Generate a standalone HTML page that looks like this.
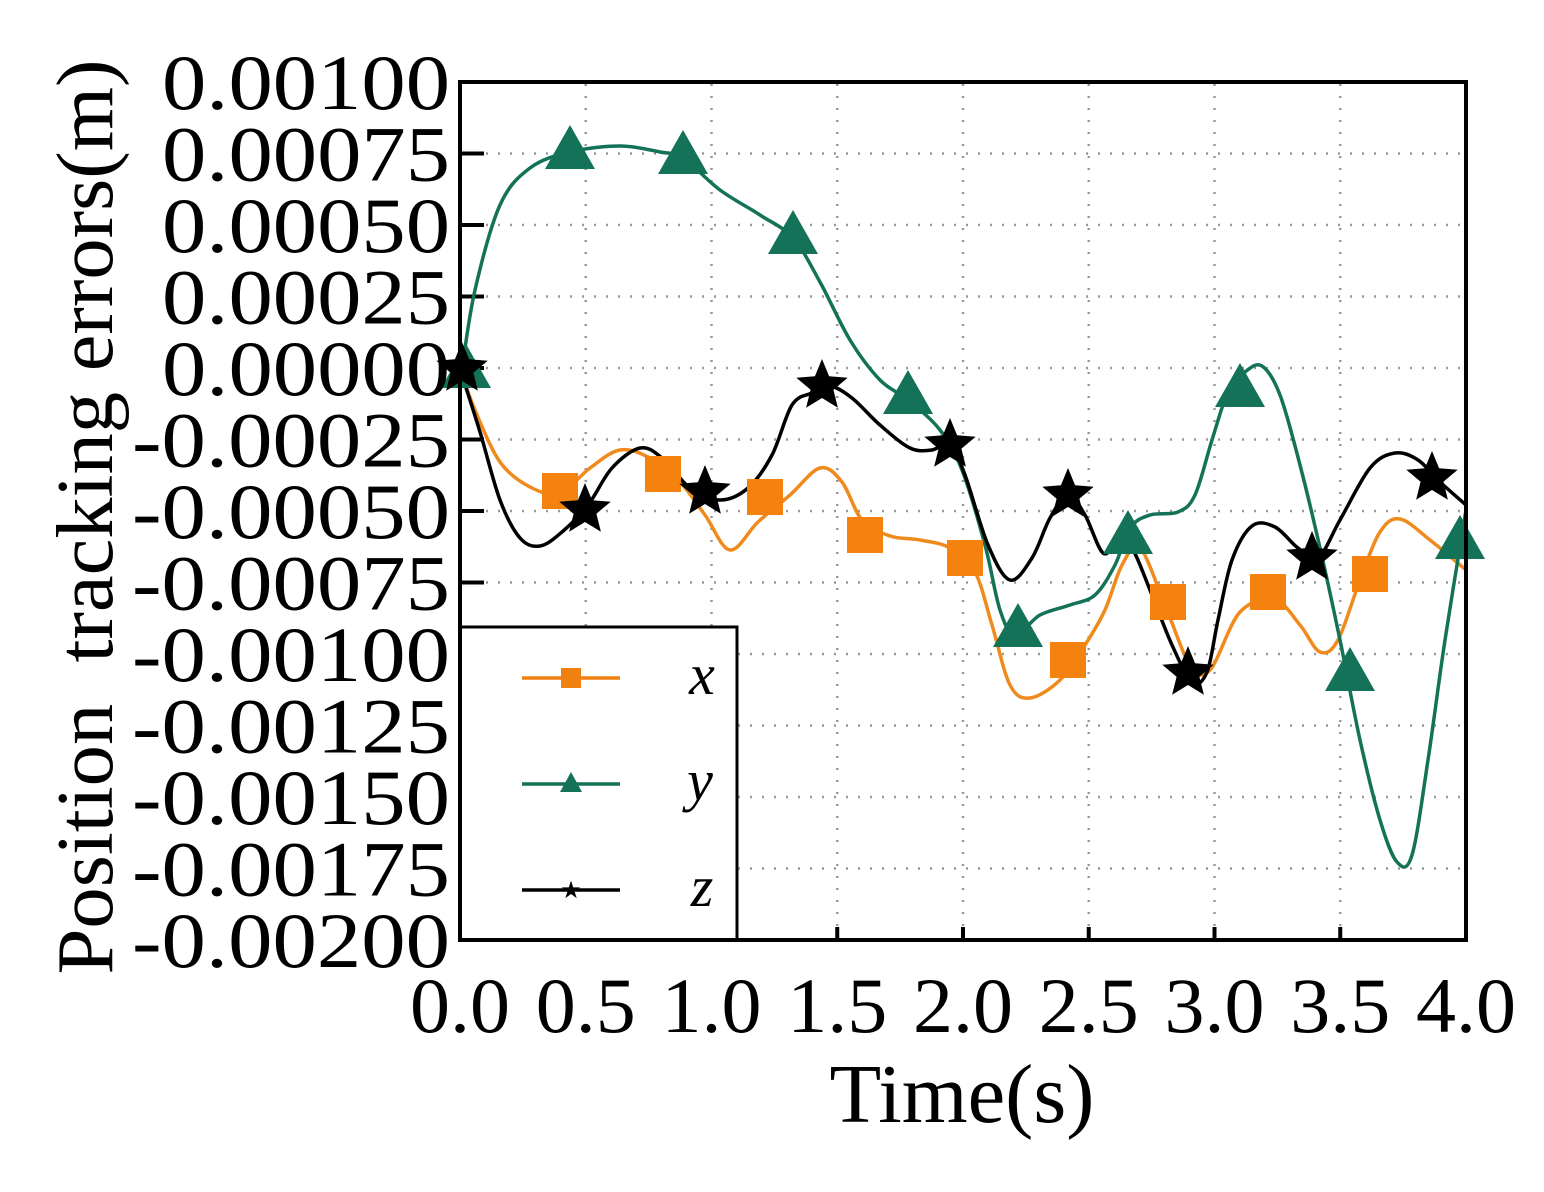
<!DOCTYPE html>
<html><head><meta charset="utf-8"><style>
body{margin:0;background:#fff;}
svg{display:block;font-family:"Liberation Serif",serif;}
</style></head><body>
<svg id="s" width="1544" height="1192" viewBox="0 0 1544 1192" xmlns="http://www.w3.org/2000/svg">
<rect width="1544" height="1192" fill="#fff"/>
<g id="grid" stroke="#999" stroke-width="2.5" stroke-dasharray="2 10"></g>
<g id="ticks" stroke="#000" stroke-width="4"></g>
<g id="curves" fill="none" stroke-width="3.5"></g>
<g id="marks"></g>
<rect x="460" y="627" width="277" height="313" fill="#fff" stroke="#000" stroke-width="3"/>
<line x1="522" y1="678" x2="620" y2="678" stroke="#f08010" stroke-width="3.5"/>
<rect x="561" y="668" width="20" height="20" fill="#f08010"/>
<line x1="522" y1="784" x2="620" y2="784" stroke="#137257" stroke-width="3.5"/>
<polygon points="571,772 582,792 560,792" fill="#137257"/>
<line x1="522" y1="890" x2="620" y2="890" stroke="#000" stroke-width="3.5"/>
<text x="571" y="898" font-size="24" text-anchor="middle">★</text>
<g font-size="58" font-style="italic" text-anchor="middle">
<text x="702" y="694">x</text><text x="700" y="800">y</text><text x="702" y="906">z</text></g>
<rect x="460" y="82" width="1006" height="858" fill="none" stroke="#000" stroke-width="4"/>
<g id="ylab" font-size="78" text-anchor="end"></g>
<g id="xlab" font-size="78" text-anchor="middle"></g>
<text x="962" y="1122" font-size="84" text-anchor="middle" textLength="265" lengthAdjust="spacingAndGlyphs">Time(s)</text>
<text transform="translate(112,517) rotate(-90)" font-size="80" text-anchor="middle" xml:space="preserve" textLength="915" lengthAdjust="spacingAndGlyphs">Position  tracking errors(m)</text>
</svg>
<script>
var NS="http://www.w3.org/2000/svg";
function el(p,t,a,txt){var e=document.createElementNS(NS,t);for(var k in a)e.setAttribute(k,a[k]);if(txt)e.textContent=txt;document.getElementById(p).appendChild(e);return e;}
for(var k=1;k<8;k++){var x=460+125.75*k;el("grid","line",{x1:x,y1:84,x2:x,y2:938});el("ticks","line",{x1:x,y1:940,x2:x,y2:927});}
var yl=["0.00100","0.00075","0.00050","0.00025","0.00000","-0.00025","-0.00050","-0.00075","-0.00100","-0.00125","-0.00150","-0.00175","-0.00200"];
for(var k=0;k<13;k++){var y=82+71.5*k;if(k>0&&k<12){el("grid","line",{x1:462,y1:y,x2:1464,y2:y});el("ticks","line",{x1:460,y1:y,x2:484,y2:y});}
el("ylab","text",{x:450,y:y+27,textLength:(k<5?288:318),lengthAdjust:"spacingAndGlyphs"},yl[k]);}
for(var k=0;k<9;k++){el("xlab","text",{x:460+125.75*k,y:1032,textLength:100,lengthAdjust:"spacingAndGlyphs"},(k*0.5).toFixed(1));}
function cr(p){var d="M"+p[0][0]+","+p[0][1];for(var i=0;i<p.length-1;i++){var p0=p[i-1]||p[i],p1=p[i],p2=p[i+1],p3=p[i+2]||p[i+1];
d+=" C"+(p1[0]+(p2[0]-p0[0])/6)+","+(p1[1]+(p2[1]-p0[1])/6)+" "+(p2[0]-(p3[0]-p1[0])/6)+","+(p2[1]-(p3[1]-p1[1])/6)+" "+p2[0]+","+p2[1];}return d;}
var G=[[462,369],[475,290],[500,205],[530,168],[570,152],[620,146],[660,152],[683,158],[720,190],[760,215],[793,238],[820,282],[850,340],[880,380],[908,400],[940,430],[962,470],[985,545],[1000,610],[1015,635],[1040,615],[1070,605],[1095,595],[1115,565],[1130,528],[1150,515],[1178,512],[1195,495],[1212,440],[1228,392],[1245,372],[1262,366],[1280,395],[1300,465],[1320,548],[1340,640],[1360,740],[1380,820],[1397,862],[1412,855],[1428,760],[1445,640],[1466,510]];
var X=[[460,369],[475,410],[500,462],[530,487],[560,493],[590,468],[620,450],[650,458],[680,482],[705,515],[730,550],[758,522],[790,495],[820,468],[842,482],[862,520],[890,536],[920,540],[950,548],[975,572],[992,625],[1010,685],[1030,698],[1060,680],[1085,645],[1105,610],[1122,565],[1140,548],[1165,605],[1190,665],[1210,670],[1240,612],[1275,600],[1300,625],[1320,652],[1338,640],[1360,580],[1380,532],[1400,519],[1430,540],[1466,570]];
var Z=[[460,369],[480,432],[500,500],[520,538],[540,546],[562,532],[588,505],[612,468],[640,448],[662,458],[690,488],[720,500],[748,488],[772,455],[792,405],[812,393],[830,386],[852,398],[880,425],[910,448],[932,450],[950,444],[965,475],[988,545],[1010,580],[1032,558],[1050,518],[1068,495],[1085,515],[1103,553],[1118,542],[1132,548],[1152,595],[1172,645],[1192,682],[1207,672],[1218,620],[1232,560],[1252,526],[1275,527],[1298,548],[1318,558],[1340,520],[1370,468],[1395,453],[1418,460],[1440,482],[1466,505]];
el("curves","path",{d:cr(X),stroke:"#f08a1c"});
el("curves","path",{d:cr(G),stroke:"#137257"});
el("curves","path",{d:cr(Z),stroke:"#000"});
[[560,491],[663,474],[765,497],[865,535],[965,558],[1068,660],[1168,602],[1268,592],[1370,574]].forEach(function(p){el("marks","rect",{x:p[0]-18,y:p[1]-18,width:36,height:36,fill:"#f5820f"});});
[[466,369],[570,150],[683,155],[793,235],[908,395],[1018,628],[1128,535],[1240,388],[1350,672],[1460,540]].forEach(function(p){el("marks","polygon",{points:(p[0])+","+(p[1]-25)+" "+(p[0]+25)+","+(p[1]+19)+" "+(p[0]-25)+","+(p[1]+19),fill:"#137257"});});
[[462,369],[585,510],[705,492],[822,386],[950,445],[1068,495],[1188,673],[1312,558],[1432,478]].forEach(function(p){var s="";for(var i=0;i<10;i++){var r=i%2?12:27,a=-Math.PI/2+i*Math.PI/5;s+=(p[0]+r*Math.cos(a)).toFixed(1)+","+(p[1]+r*Math.sin(a)).toFixed(1)+" ";}el("marks","polygon",{points:s,fill:"#000"});});
</script>
</body></html>
